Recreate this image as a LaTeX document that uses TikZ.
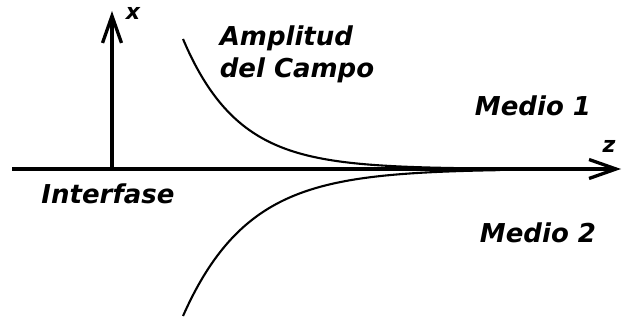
\documentclass[tikz,border=0pt]{standalone}
\usepackage{fontspec}
\setmainfont{DejaVu Sans}
\usetikzlibrary{arrows.meta}

\tikzset{
  eje/.style={line width=3.3pt,-{Straight Barb[length=27pt,width=19pt]}},
  curva/.style={line width=2.1pt,smooth,samples=80},
  rotulo/.style={inner sep=0pt,font=\fontsize{26}{32}\selectfont\bfseries\itshape},
  letra/.style={inner sep=0pt,font=\fontsize{22}{24}\selectfont\bfseries\itshape}
}

\begin{document}
\begin{tikzpicture}[x=1pt,y=1pt]
\path[use as bounding box] (0,0) rectangle (623,321);
% ejes
\coordinate (izq) at (12,152);
\coordinate (der) at (621,152);
\coordinate (base) at (112,152);
\coordinate (arriba) at (112,310);
\draw[eje] (izq) -- (der);
\draw[eje,line cap=butt] (base) -- (arriba);
\node[letra] (lx) at (133,308) {x};
\node[letra] (lz) at (609,175) {z};
% amplitud en cada medio
\draw[curva] plot[domain=183:500] (\x,{152+130*exp(-(\x-183)/55)});
\draw[curva] plot[domain=183:500] (\x,{152-147*exp(-(\x-183)/65)});
% textos
\node[rotulo,align=left] (amp) at (297,267) {Amplitud\\del Campo};
\node[rotulo] (m1) at (533,215) {Medio 1};
\node[rotulo] (m2) at (538,88) {Medio 2};
\node[rotulo] (inter) at (108,127) {Interfase};
\end{tikzpicture}
\end{document}
